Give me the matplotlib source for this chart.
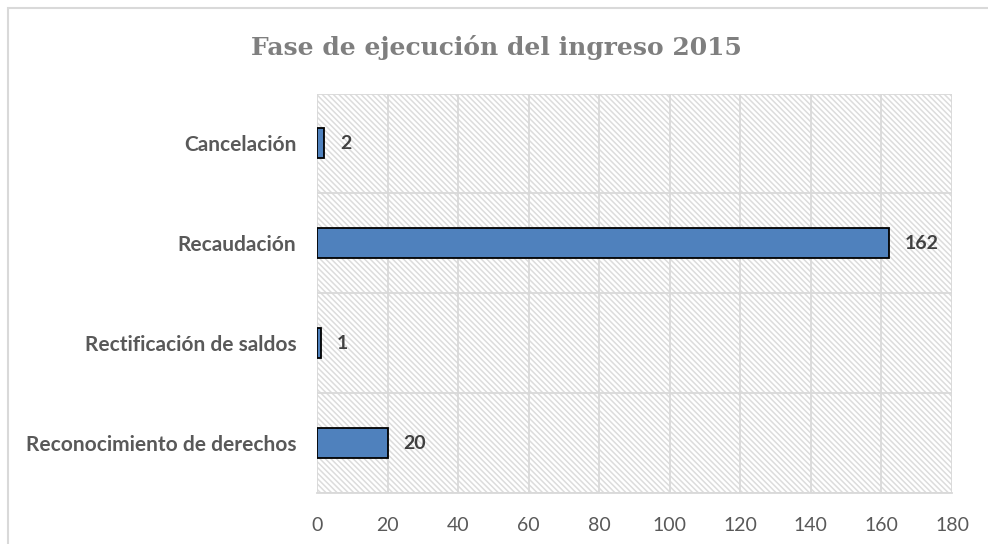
import matplotlib
matplotlib.use("Agg")
import matplotlib.pyplot as plt
from matplotlib.patches import Rectangle
import numpy as np

categories = ["Reconocimiento de derechos", "Rectificación de saldos", "Recaudación", "Cancelación"]
values = [20, 1, 162, 2]
xticks = [0, 20, 40, 60, 80, 100, 120, 140, 160, 180]
title = "Fase de ejecución del ingreso 2015"

plt.rcParams['hatch.linewidth'] = 1.1

fig = plt.figure(figsize=(9.88, 5.44), dpi=100)
fig.patch.set_facecolor("white")

# outer chart frame
fig.add_artist(Rectangle((8/988, -0.05), 1.0, (544-8)/544 + 0.05, transform=fig.transFigure,
                         facecolor="none", edgecolor="#d9d9d9", linewidth=1.5))

ax = fig.add_axes([317/988, (544-493)/544, (952-317)/988, (493-93.5)/544])
ax.set_facecolor("white")

bg = Rectangle((0, 0), 1, 1, transform=ax.transAxes, facecolor="white",
               edgecolor="#dcdcdc", linewidth=0, hatch="\\\\\\\\\\\\", zorder=0)
ax.add_patch(bg)

y = np.arange(len(categories))
ax.barh(y, values, height=0.3, color="#4f81bd", edgecolor="black", linewidth=1.3, zorder=3)

for yi, v in zip(y, values):
    ax.annotate(str(v), xy=(v, yi), xytext=(11.5, 0), textcoords="offset points",
                ha="left", va="center", fontsize=14, fontweight="bold",
                color="#404040", family="Lato")

ax.set_xlim(0, 180)
ax.set_ylim(-0.5, len(categories) - 0.5)
ax.set_xticks(xticks)
ax.set_xticklabels([str(t) for t in xticks], fontsize=14, color="#595959", family="Lato")
ax.set_yticks(y)
ax.set_yticklabels(categories, fontsize=15, fontweight="bold", color="#595959", family="Lato")
ax.set_yticks(np.arange(len(categories) + 1) - 0.5, minor=True)
ax.tick_params(axis="both", which="both", length=0)
ax.tick_params(axis="x", pad=17)
ax.tick_params(axis="y", pad=15)

ax.grid(axis="x", which="major", color="#d9d9d9", linewidth=1.3, zorder=1)
ax.grid(axis="y", which="minor", color="#d9d9d9", linewidth=1.3, zorder=1)
ax.set_axisbelow(True)
for s in ["top", "right", "left"]:
    ax.spines[s].set_visible(False)
ax.spines["bottom"].set_color("#d9d9d9")
ax.spines["bottom"].set_linewidth(1.3)

fig.text(0.5025, (544-47)/544, title, ha="center", va="center", fontsize=18,
         fontweight="bold", color="#7f7f7f", family="DejaVu Serif")

fig.savefig("out.png", dpi=100)
